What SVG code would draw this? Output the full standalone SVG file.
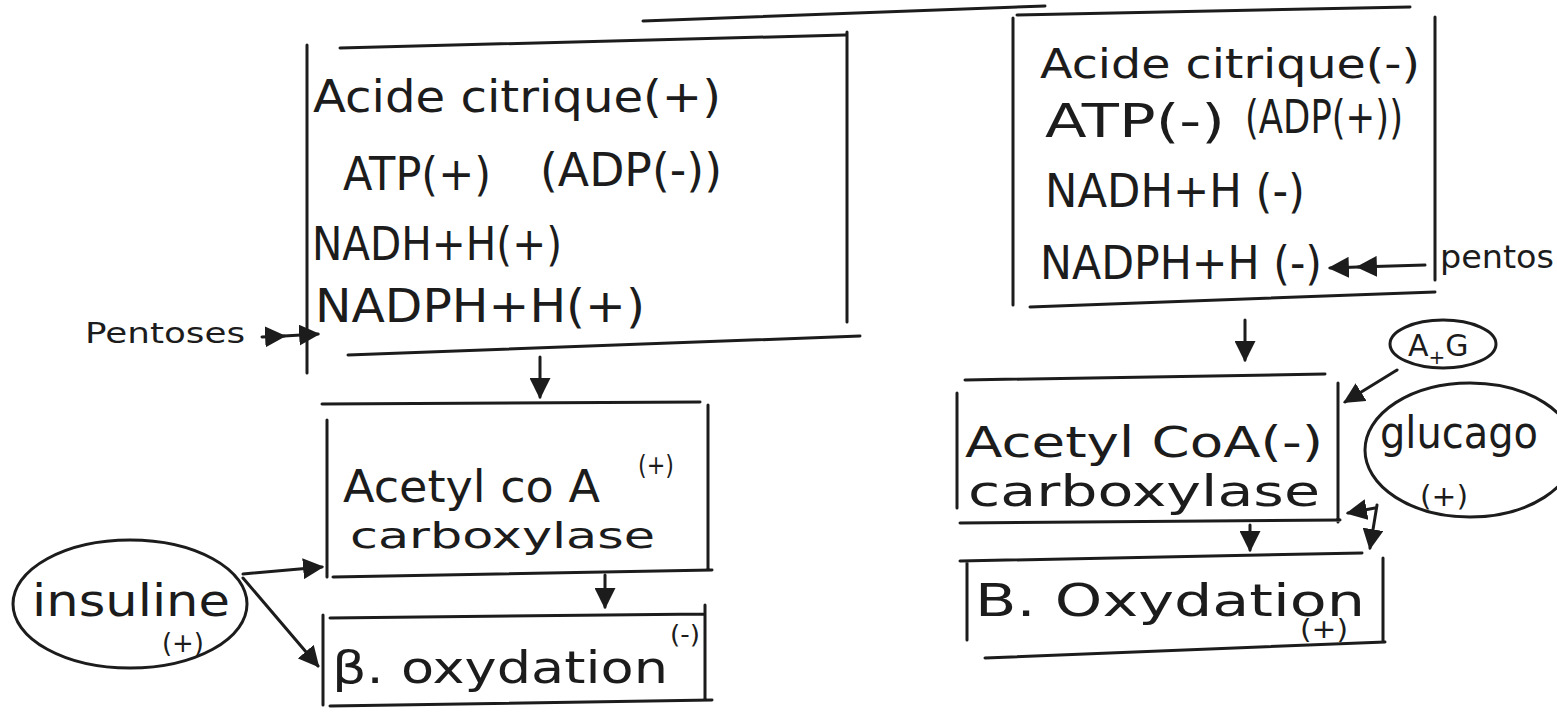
<svg xmlns="http://www.w3.org/2000/svg" width="1557" height="722" viewBox="0 0 1557 722">
<style>
.t{font-family:"DejaVu Sans","Liberation Sans",sans-serif;fill:#1c1c1c}
.ln{stroke:#1c1c1c;stroke-width:3;fill:none;stroke-linecap:round}
.ar{stroke:#1c1c1c;stroke-width:3;fill:none;stroke-linecap:round}
</style>
<defs>
<marker id="ah" viewBox="0 0 10 10" refX="9" refY="5" markerWidth="7" markerHeight="7" orient="auto" markerUnits="strokeWidth">
<path d="M0,0 L10,5 L0,10 z" fill="#1c1c1c"/>
</marker>
</defs>
<rect width="1557" height="722" fill="#ffffff"/>
<g id="title-rule"><path class="ln" d="M643,21 L1045,6"/></g>

<g id="left-top-box">
<path class="ln" d="M340,48 L845,35 M307,45 L307,373 M847,32 L847,322 M348,355 L860,336"/>
<text class="t" x="313" y="112" font-size="44" textLength="408" lengthAdjust="spacingAndGlyphs">Acide citrique(+)</text>
<text class="t" x="343" y="190" font-size="46" textLength="148" lengthAdjust="spacingAndGlyphs">ATP(+)</text>
<text class="t" x="540" y="186" font-size="46" textLength="182" lengthAdjust="spacingAndGlyphs">(ADP(-))</text>
<text class="t" x="312" y="260" font-size="46" textLength="250" lengthAdjust="spacingAndGlyphs">NADH+H(+)</text>
<text class="t" x="315" y="322" font-size="46" textLength="330" lengthAdjust="spacingAndGlyphs">NADPH+H(+)</text>
</g>
<g id="pentoses-left"><text class="t" x="85" y="343" font-size="28" textLength="160" lengthAdjust="spacingAndGlyphs">Pentoses</text></g>

<g id="left-acetyl-box">
<path class="ln" d="M322,404 L700,402 M327,420 L327,577 M708,405 L708,570 M333,577 L712,570"/>
<text class="t" x="343" y="502" font-size="44" textLength="257" lengthAdjust="spacingAndGlyphs">Acetyl co A</text>
<text class="t" x="638" y="474" font-size="26" textLength="36" lengthAdjust="spacingAndGlyphs">(+)</text>
<text class="t" x="350" y="548" font-size="36" textLength="305" lengthAdjust="spacingAndGlyphs">carboxylase</text>
</g>

<g id="left-oxydation-box">
<path class="ln" d="M330,618 L705,614 M323,615 L323,705 M705,605 L705,700 M330,706 L712,700"/>
<text class="t" x="332" y="683" font-size="44" textLength="336" lengthAdjust="spacingAndGlyphs">β. oxydation</text>
<text class="t" x="670" y="643" font-size="24" textLength="30" lengthAdjust="spacingAndGlyphs">(-)</text>
</g>

<g id="insuline">
<ellipse class="ln" cx="130" cy="604" rx="117" ry="64"/>
<text class="t" x="32" y="616" font-size="44" textLength="198" lengthAdjust="spacingAndGlyphs">insuline</text>
<text class="t" x="162" y="652" font-size="26" textLength="42" lengthAdjust="spacingAndGlyphs">(+)</text>
</g>

<g id="right-top-box">
<path class="ln" d="M1017,15 L1410,7 M1013,18 L1013,305 M1435,17 L1435,280 M1030,307 L1435,292"/>
<text class="t" x="1040" y="78" font-size="40" textLength="380" lengthAdjust="spacingAndGlyphs">Acide citrique(-)</text>
<text class="t" x="1045" y="137" font-size="46" textLength="180" lengthAdjust="spacingAndGlyphs">ATP(-)</text>
<text class="t" x="1245" y="133" font-size="46" textLength="158" lengthAdjust="spacingAndGlyphs">(ADP(+))</text>
<text class="t" x="1045" y="207" font-size="46" textLength="260" lengthAdjust="spacingAndGlyphs">NADH+H (-)</text>
<text class="t" x="1040" y="279" font-size="46" textLength="282" lengthAdjust="spacingAndGlyphs">NADPH+H (-)</text>
</g>
<g id="pentos-right"><text class="t" x="1440" y="268" font-size="32" textLength="114" lengthAdjust="spacingAndGlyphs">pentos</text></g>

<g id="ag">
<ellipse class="ln" cx="1443" cy="344" rx="53" ry="24"/>
<text class="t" x="1408" y="356" font-size="30">A<tspan font-size="20" dy="8">+</tspan><tspan font-size="30" dy="-8">G</tspan></text>
</g>

<g id="right-acetyl-box">
<path class="ln" d="M965,380 L1325,374 M957,393 L957,508 M1338,383 L1338,522 M960,523 L1340,520"/>
<text class="t" x="965" y="457" font-size="42" textLength="358" lengthAdjust="spacingAndGlyphs">Acetyl CoA(-)</text>
<text class="t" x="968" y="506" font-size="42" textLength="352" lengthAdjust="spacingAndGlyphs">carboxylase</text>
</g>

<g id="glucagon">
<ellipse class="ln" cx="1470" cy="450" rx="105" ry="67"/>
<text class="t" x="1380" y="448" font-size="44" textLength="158" lengthAdjust="spacingAndGlyphs">glucago</text>
<text class="t" x="1420" y="506" font-size="28" textLength="48" lengthAdjust="spacingAndGlyphs">(+)</text>
</g>

<g id="right-oxydation-box">
<path class="ln" d="M960,561 L1362,553 M967,563 L967,640 M1383,558 L1383,640 M985,658 L1385,642"/>
<text class="t" x="975" y="616" font-size="44" textLength="390" lengthAdjust="spacingAndGlyphs">B. Oxydation</text>
<text class="t" x="1300" y="638" font-size="26" textLength="48" lengthAdjust="spacingAndGlyphs">(+)</text>
</g>

<g id="connectors">
<path class="ar" d="M540,357 L540,397" marker-end="url(#ah)"/>
<path class="ar" d="M605,575 L605,607" marker-end="url(#ah)"/>
<path class="ar" d="M243,574 L322,567" marker-end="url(#ah)"/>
<path class="ar" d="M243,578 L318,666" marker-end="url(#ah)"/>
<path class="ar" d="M262,337 L284,336" marker-end="url(#ah)"/>
<path class="ar" d="M284,336 L318,334" marker-end="url(#ah)"/>
<path class="ar" d="M1245,320 L1245,360" marker-end="url(#ah)"/>
<path class="ar" d="M1397,370 L1345,402" marker-end="url(#ah)"/>
<path class="ar" d="M1250,525 L1250,550" marker-end="url(#ah)"/>
<path class="ar" d="M1377,505 L1370,548" marker-end="url(#ah)"/>
<path class="ar" d="M1375,508 L1348,513" marker-end="url(#ah)"/>
<path class="ar" d="M1425,265 L1358,267" marker-end="url(#ah)"/>
<path class="ar" d="M1358,267 L1330,268" marker-end="url(#ah)"/>
</g>
</svg>
